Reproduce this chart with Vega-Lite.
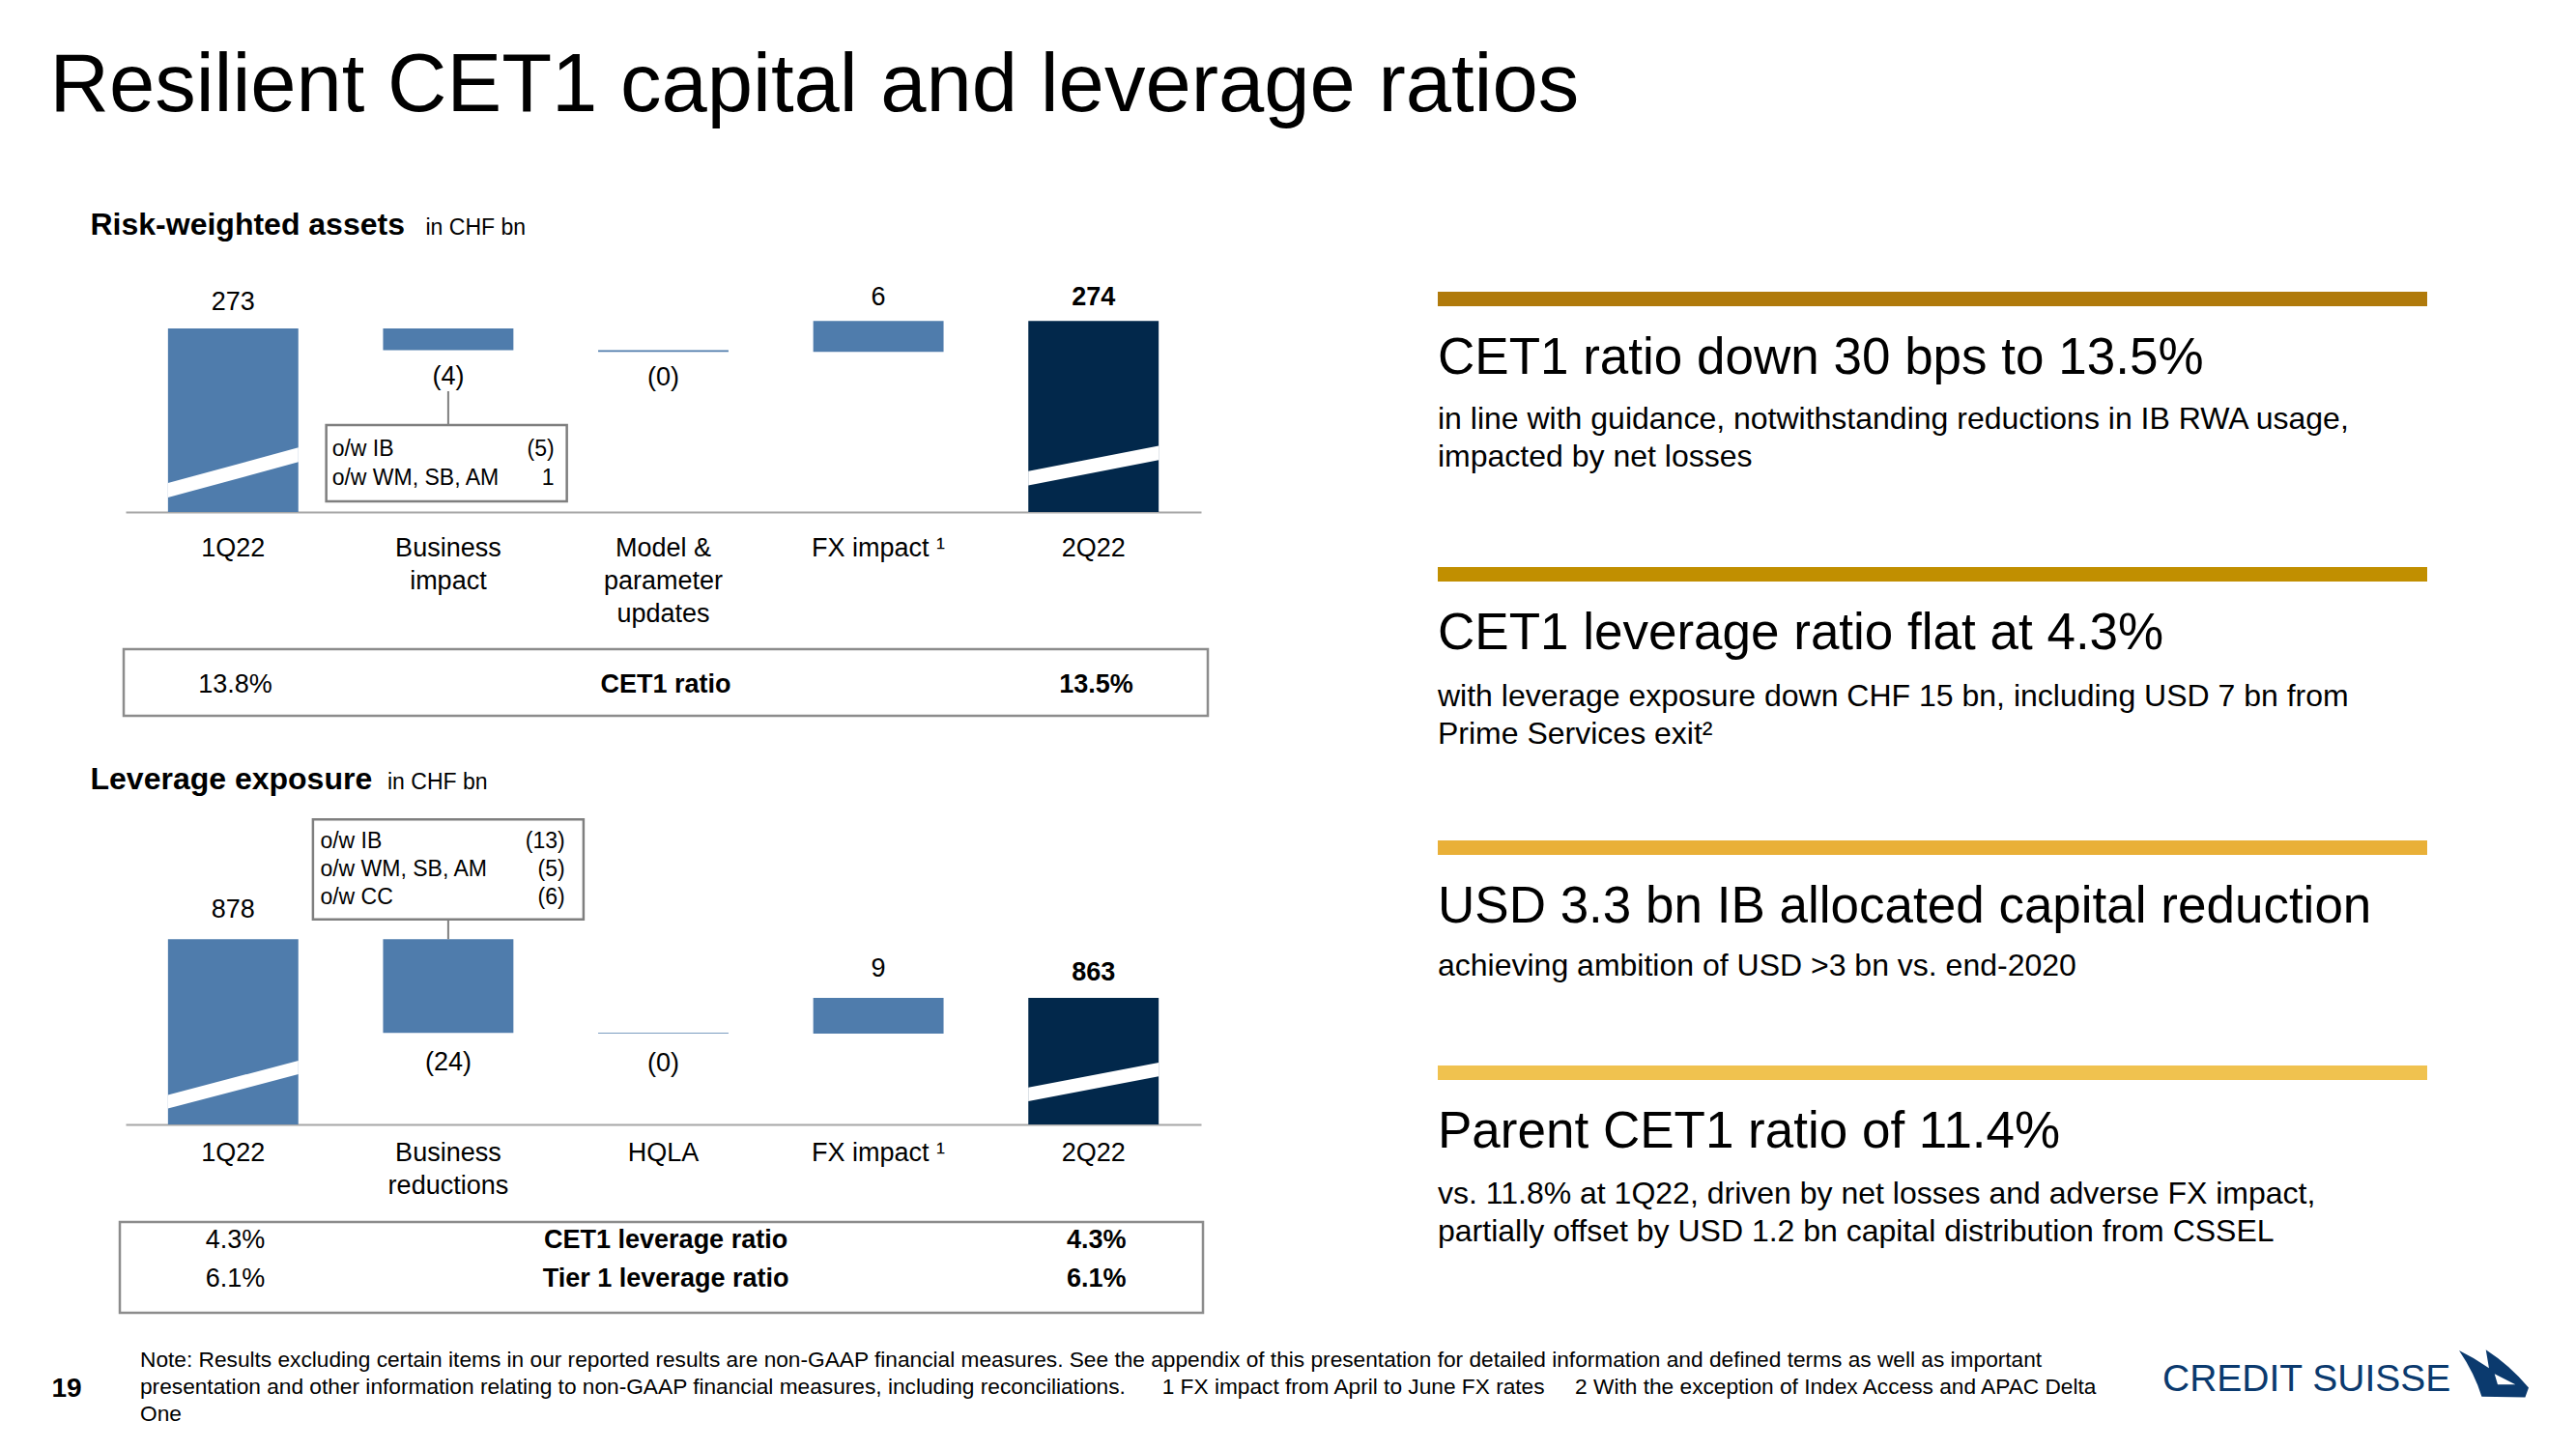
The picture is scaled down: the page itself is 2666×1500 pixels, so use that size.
{
  "$schema": "https://vega.github.io/schema/vega-lite/v6.json",
  "background": "white",
  "padding": 0,
  "spacing": 0,
  "config": {"view": {"stroke": null}, "font": "Liberation Sans", "concat": {"spacing": 0}, "text": {"color": "#000000"}},
  "datasets": {
    "rwa": [
      {"cat": "1Q22", "start": 0, "end": 273, "label": "273"},
      {"cat": "Business impact", "start": 273, "end": 268.9, "label": "(4)", "notes": ["o/w IB", "o/w WM, SB, AM"], "noteValues": ["(5)", "1\u00a0"]},
      {"cat": "Model & parameter updates", "start": 268.9, "end": 268.6, "label": "(0)"},
      {"cat": "FX impact \u00b9", "start": 268.6, "end": 274.4, "label": "6"},
      {"cat": "2Q22", "start": 0, "end": 274.4, "label": "274"}
    ],
    "lev": [
      {"cat": "1Q22", "start": 0, "end": 878, "label": "878"},
      {"cat": "Business reductions", "start": 878, "end": 854, "label": "(24)", "notes": ["o/w IB", "o/w WM, SB, AM", "o/w CC"], "noteValues": ["(13)", "(5)", "(6)"]},
      {"cat": "HQLA", "start": 854, "end": 853.8, "label": "(0)"},
      {"cat": "FX impact \u00b9", "start": 853.8, "end": 863, "label": "9"},
      {"cat": "2Q22", "start": 0, "end": 863, "label": "863"}
    ],
    "rwaRatio": [{"metric": "CET1 ratio", "p1": "13.8%", "p2": "13.5%"}],
    "levRatio": [
      {"metric": "CET1 leverage ratio", "p1": "4.3%", "p2": "4.3%"},
      {"metric": "Tier 1 leverage ratio", "p1": "6.1%", "p2": "6.1%"}
    ]
  },
  "vconcat": [
    {
      "spacing": 0,
      "hconcat": [
        {"width": 51, "height": 1, "data": {"values": []}, "mark": "point"},
        {"width": 1, "height": 200, "data": {"values": [{"title": "Resilient CET1 capital and leverage ratios"}]},
         "mark": {"type": "text", "align": "left", "baseline": "alphabetic", "fontSize": 85, "dy": 15},
         "encoding": {"text": {"field": "title"}}}
      ]
    },
    {
      "spacing": 0,
      "hconcat": [
        {"width": 93, "height": 1, "data": {"values": []}, "mark": "point"},
        {
          "spacing": 0,
          "vconcat": [
            {"width": 1, "height": 86, "data": {"values": [{"section": "Risk-weighted assets", "unit": "in CHF bn"}]},
             "layer": [
               {"mark": {"type": "text", "align": "left", "baseline": "alphabetic", "fontSize": 32, "fontWeight": "bold"}, "encoding": {"text": {"field": "section"}}},
               {"mark": {"type": "text", "align": "left", "baseline": "alphabetic", "fontSize": 23, "dx": 347}, "encoding": {"text": {"field": "unit"}}}
             ]},
            {
              "spacing": 0,
              "hconcat": [
                {"width": 37, "height": 1, "data": {"values": []}, "mark": "point"},
                {
                  "width": 1113, "height": 244,
                  "data": {"name": "rwa"},
                  "encoding": {"x": {"field": "cat", "type": "nominal", "sort": null,
                    "scale": {"type": "band", "paddingInner": 0.394, "paddingOuter": 0.197},
                    "axis": {"title": null, "ticks": false, "domainColor": "#A6A6A6", "domainWidth": 2, "labelFontSize": 27, "labelColor": "#000000", "labelPadding": 24.7, "labelLineHeight": 34, "labelAngle": 0, "labelBaseline": "top", "labelOverlap": false, "labelLimit": 0, "labelFlush": false, "grid": false,
                      "labelExpr": "datum.label === 'Business impact' ? ['Business', 'impact'] : datum.label === 'Model & parameter updates' ? ['Model &', 'parameter', 'updates'] : datum.label"}}},
                  "layer": [
                    {"mark": {"type": "bar"},
                     "encoding": {
                       "y": {"field": "end", "type": "quantitative", "scale": {"domain": [238.45, 282.81], "zero": false, "nice": false, "clamp": true}, "axis": null},
                       "y2": {"field": "start"},
                       "color": {"condition": {"test": "datum.cat === '2Q22'", "value": "#02284B"}, "value": "#4F7CAC"}}},
                    {"transform": [{"filter": "datum.cat === '1Q22'"}],
                     "mark": {"type": "point", "shape": "M -1 0.161 L 1 -0.383 L 1 -0.161 L -1 0.383 Z", "size": 18225, "filled": true, "color": "#FFFFFF", "opacity": 1, "strokeWidth": 0, "yOffset": -40.85},
                     "encoding": {"y": {"field": "start", "type": "quantitative"}}},
                    {"transform": [{"filter": "datum.cat === '2Q22'"}],
                     "mark": {"type": "point", "shape": "M -1 0.084 L 1 -0.302 L 1 -0.084 L -1 0.302 Z", "size": 18225, "filled": true, "color": "#FFFFFF", "opacity": 1, "strokeWidth": 0, "yOffset": -48},
                     "encoding": {"y": {"field": "start", "type": "quantitative"}}},
                    {"transform": [{"filter": "datum.cat === '1Q22'"}],
                     "mark": {"type": "text", "fontSize": 27, "baseline": "alphabetic", "dy": -18.5},
                     "encoding": {"y": {"field": "end", "type": "quantitative"}, "text": {"field": "label"}}},
                    {"transform": [{"filter": "datum.end >= datum.start && datum.cat !== '2Q22' && datum.cat !== '1Q22'"}],
                     "mark": {"type": "text", "fontSize": 27, "baseline": "alphabetic", "dy": -16},
                     "encoding": {"y": {"field": "end", "type": "quantitative"}, "text": {"field": "label"}}},
                    {"transform": [{"filter": "datum.cat === '2Q22'"}],
                     "mark": {"type": "text", "fontSize": 27, "fontWeight": "bold", "baseline": "alphabetic", "dy": -16},
                     "encoding": {"y": {"field": "end", "type": "quantitative"}, "text": {"field": "label"}}},
                    {"transform": [{"filter": "datum.end < datum.start"}],
                     "mark": {"type": "text", "fontSize": 27, "baseline": "alphabetic", "dy": 35},
                     "encoding": {"y": {"field": "end", "type": "quantitative"}, "text": {"field": "label"}}},
                    {"transform": [{"filter": "isValid(datum.notes)"}],
                     "mark": {"type": "rule", "color": "#7F7F7F", "strokeWidth": 2, "yOffset": 42.5, "y2Offset": 77.5},
                     "encoding": {"y": {"field": "end", "type": "quantitative"}, "y2": {"field": "end"}}},
                    {"transform": [{"filter": "isValid(datum.notes)"}],
                     "mark": {"type": "point", "shape": "M -1 -0.317 L 1 -0.317 L 1 0.317 L -1 0.317 Z", "size": 62001, "filled": false, "stroke": "#7F7F7F", "strokeWidth": 2.5, "opacity": 1, "xOffset": -1.75, "yOffset": 117},
                     "encoding": {"y": {"field": "end", "type": "quantitative"}}},
                    {"transform": [{"filter": "isValid(datum.notes)"}],
                     "mark": {"type": "text", "fontSize": 23, "align": "left", "baseline": "alphabetic", "lineHeight": 30, "dx": -120.25, "dy": 109.2},
                     "encoding": {"y": {"field": "end", "type": "quantitative"}, "text": {"field": "notes"}}},
                    {"transform": [{"filter": "isValid(datum.notes)"}],
                     "mark": {"type": "text", "fontSize": 23, "align": "right", "baseline": "alphabetic", "lineHeight": 30, "dx": 109.75, "dy": 109.2},
                     "encoding": {"y": {"field": "end", "type": "quantitative"}, "text": {"field": "noteValues"}}}
                  ]
                }
              ]
            },
            {"width": 1, "height": 21, "data": {"values": []}, "mark": "point"},
            {
              "spacing": 0,
              "hconcat": [
                {"width": 33, "height": 1, "data": {"values": []}, "mark": "point"},
                {"width": 1122, "height": 69, "view": {"stroke": "#8C8C8C", "strokeWidth": 2.5},
                 "data": {"name": "rwaRatio"},
                 "layer": [
                   {"mark": {"type": "text", "fontSize": 27, "baseline": "alphabetic", "dy": 10.5},
                    "encoding": {"x": {"datum": "1Q22", "type": "nominal", "scale": {"type": "point", "domain": ["1Q22", "ratio", "2Q22"], "padding": 0.259, "align": 0.5}, "axis": null}, "text": {"field": "p1"}}},
                   {"mark": {"type": "text", "fontSize": 27, "fontWeight": "bold", "baseline": "alphabetic", "dy": 10.5},
                    "encoding": {"x": {"datum": "ratio", "type": "nominal"}, "text": {"field": "metric"}}},
                   {"mark": {"type": "text", "fontSize": 27, "fontWeight": "bold", "baseline": "alphabetic", "dy": 10.5},
                    "encoding": {"x": {"datum": "2Q22", "type": "nominal"}, "text": {"field": "p2"}}}
                 ]}
              ]
            },
            {"width": 1, "height": 48, "data": {"values": []}, "mark": "point"},
            {"width": 1, "height": 52, "data": {"values": [{"section": "Leverage exposure", "unit": "in CHF bn"}]},
             "layer": [
               {"mark": {"type": "text", "align": "left", "baseline": "alphabetic", "fontSize": 32, "fontWeight": "bold"}, "encoding": {"text": {"field": "section"}}},
               {"mark": {"type": "text", "align": "left", "baseline": "alphabetic", "fontSize": 23, "dx": 307.5}, "encoding": {"text": {"field": "unit"}}}
             ]},
            {
              "spacing": 0,
              "hconcat": [
                {"width": 37, "height": 1, "data": {"values": []}, "mark": "point"},
                {
                  "width": 1113, "height": 318,
                  "data": {"name": "lev"},
                  "encoding": {"x": {"field": "cat", "type": "nominal", "sort": null,
                    "scale": {"type": "band", "paddingInner": 0.394, "paddingOuter": 0.197},
                    "axis": {"title": null, "ticks": false, "domainColor": "#A6A6A6", "domainWidth": 2, "labelFontSize": 27, "labelColor": "#000000", "labelPadding": 16, "labelLineHeight": 34, "labelAngle": 0, "labelBaseline": "top", "labelOverlap": false, "labelLimit": 0, "labelFlush": false, "grid": false,
                      "labelExpr": "datum.label === 'Business reductions' ? ['Business', 'reductions'] : datum.label"}}},
                  "layer": [
                    {"mark": {"type": "bar"},
                     "encoding": {
                       "y": {"field": "end", "type": "quantitative", "scale": {"domain": [830.55, 909.26], "zero": false, "nice": false, "clamp": true}, "axis": null},
                       "y2": {"field": "start"},
                       "color": {"condition": {"test": "datum.cat === '2Q22'", "value": "#02284B"}, "value": "#4F7CAC"}}},
                    {"transform": [{"filter": "datum.cat === '1Q22'"}],
                     "mark": {"type": "point", "shape": "M -1 0.159 L 1 -0.367 L 1 -0.159 L -1 0.367 Z", "size": 18225, "filled": true, "color": "#FFFFFF", "opacity": 1, "strokeWidth": 0, "yOffset": -41.25},
                     "encoding": {"y": {"field": "start", "type": "quantitative"}}},
                    {"transform": [{"filter": "datum.cat === '2Q22'"}],
                     "mark": {"type": "point", "shape": "M -1 0.085 L 1 -0.295 L 1 -0.085 L -1 0.295 Z", "size": 18225, "filled": true, "color": "#FFFFFF", "opacity": 1, "strokeWidth": 0, "yOffset": -44},
                     "encoding": {"y": {"field": "start", "type": "quantitative"}}},
                    {"transform": [{"filter": "datum.end >= datum.start && datum.cat !== '2Q22'"}],
                     "mark": {"type": "text", "fontSize": 27, "baseline": "alphabetic", "dy": -22},
                     "encoding": {"y": {"field": "end", "type": "quantitative"}, "text": {"field": "label"}}},
                    {"transform": [{"filter": "datum.cat === '2Q22'"}],
                     "mark": {"type": "text", "fontSize": 27, "fontWeight": "bold", "baseline": "alphabetic", "dy": -18},
                     "encoding": {"y": {"field": "end", "type": "quantitative"}, "text": {"field": "label"}}},
                    {"transform": [{"filter": "datum.end < datum.start"}],
                     "mark": {"type": "text", "fontSize": 27, "baseline": "alphabetic", "dy": 39},
                     "encoding": {"y": {"field": "end", "type": "quantitative"}, "text": {"field": "label"}}},
                    {"transform": [{"filter": "isValid(datum.notes)"}],
                     "mark": {"type": "rule", "color": "#7F7F7F", "strokeWidth": 2, "yOffset": -20.6, "y2Offset": 0},
                     "encoding": {"y": {"field": "start", "type": "quantitative"}, "y2": {"field": "start"}}},
                    {"transform": [{"filter": "isValid(datum.notes)"}],
                     "mark": {"type": "point", "shape": "M -1 -0.369 L 1 -0.369 L 1 0.369 L -1 0.369 Z", "size": 78400, "filled": false, "stroke": "#7F7F7F", "strokeWidth": 2.5, "opacity": 1, "yOffset": -72.3},
                     "encoding": {"y": {"field": "start", "type": "quantitative"}}},
                    {"transform": [{"filter": "isValid(datum.notes)"}],
                     "mark": {"type": "text", "fontSize": 23, "align": "left", "baseline": "alphabetic", "lineHeight": 29, "dx": -132.5, "dy": -94},
                     "encoding": {"y": {"field": "start", "type": "quantitative"}, "text": {"field": "notes"}}},
                    {"transform": [{"filter": "isValid(datum.notes)"}],
                     "mark": {"type": "text", "fontSize": 23, "align": "right", "baseline": "alphabetic", "lineHeight": 29, "dx": 120.75, "dy": -94},
                     "encoding": {"y": {"field": "start", "type": "quantitative"}, "text": {"field": "noteValues"}}}
                  ]
                }
              ]
            },
            {"width": 1, "height": 23, "data": {"values": []}, "mark": "point"},
            {
              "spacing": 0,
              "hconcat": [
                {"width": 29, "height": 1, "data": {"values": []}, "mark": "point"},
                {"width": 1121, "height": 94, "view": {"stroke": "#8C8C8C", "strokeWidth": 2.5},
                 "data": {"name": "levRatio"},
                 "encoding": {"y": {"field": "metric", "type": "nominal", "sort": null, "scale": {"type": "band", "paddingInner": 0, "paddingOuter": 0.175}, "axis": null}},
                 "layer": [
                   {"mark": {"type": "text", "fontSize": 27, "baseline": "alphabetic"},
                    "encoding": {"x": {"datum": "1Q22", "type": "nominal", "scale": {"type": "point", "domain": ["1Q22", "ratio", "2Q22"], "padding": 0.258, "align": 0.52}, "axis": null}, "text": {"field": "p1"}}},
                   {"mark": {"type": "text", "fontSize": 27, "fontWeight": "bold", "baseline": "alphabetic"},
                    "encoding": {"x": {"datum": "ratio", "type": "nominal"}, "text": {"field": "metric"}}},
                   {"mark": {"type": "text", "fontSize": 27, "fontWeight": "bold", "baseline": "alphabetic"},
                    "encoding": {"x": {"datum": "2Q22", "type": "nominal"}, "text": {"field": "p2"}}}
                 ]}
              ]
            },
            {"width": 1, "height": 27, "data": {"values": []}, "mark": "point"}
          ]
        },
        {"width": 236, "height": 1, "data": {"values": []}, "mark": "point"},
        {
          "spacing": 0,
          "vconcat": [
            {"width": 1, "height": 102, "data": {"values": []}, "mark": "point"},
            {"width": 1024, "height": 15, "view": {"fill": "#B07A0B", "stroke": null},
             "data": {"values": [{"headline": "CET1 ratio down 30 bps to 13.5%", "detail": ["in line with guidance, notwithstanding reductions in IB RWA usage,", "impacted by net losses"]}]},
             "encoding": {"x": {"field": "headline", "type": "nominal", "scale": {"type": "band", "paddingInner": 0, "paddingOuter": 0}, "bandPosition": 0, "axis": null}},
             "layer": [
               {"mark": {"type": "text", "align": "left", "baseline": "alphabetic", "fontSize": 53, "dy": 77.5}, "encoding": {"text": {"field": "headline"}}},
               {"mark": {"type": "text", "align": "left", "baseline": "alphabetic", "fontSize": 32, "lineHeight": 39, "dy": 134.5}, "encoding": {"text": {"field": "detail"}}}
             ]},
            {"width": 1, "height": 98, "data": {"values": []}, "mark": "point"},
            {"width": 1024, "height": 15, "view": {"fill": "#C18F00", "stroke": null},
             "data": {"values": [{"headline": "CET1 leverage ratio flat at 4.3%", "detail": ["with leverage exposure down CHF 15 bn, including USD 7 bn from", "Prime Services exit\u00b2"]}]},
             "encoding": {"x": {"field": "headline", "type": "nominal", "scale": {"type": "band", "paddingInner": 0, "paddingOuter": 0}, "bandPosition": 0, "axis": null}},
             "layer": [
               {"mark": {"type": "text", "align": "left", "baseline": "alphabetic", "fontSize": 53, "dy": 77.5}, "encoding": {"text": {"field": "headline"}}},
               {"mark": {"type": "text", "align": "left", "baseline": "alphabetic", "fontSize": 32, "lineHeight": 39, "dy": 136.5}, "encoding": {"text": {"field": "detail"}}}
             ]},
            {"width": 1, "height": 94, "data": {"values": []}, "mark": "point"},
            {"width": 1024, "height": 15, "view": {"fill": "#E9B038", "stroke": null},
             "data": {"values": [{"headline": "USD 3.3 bn IB allocated capital reduction", "detail": ["achieving ambition of USD >3 bn vs. end-2020"]}]},
             "encoding": {"x": {"field": "headline", "type": "nominal", "scale": {"type": "band", "paddingInner": 0, "paddingOuter": 0}, "bandPosition": 0, "axis": null}},
             "layer": [
               {"mark": {"type": "text", "align": "left", "baseline": "alphabetic", "fontSize": 53, "dy": 77.5}, "encoding": {"text": {"field": "headline"}}},
               {"mark": {"type": "text", "align": "left", "baseline": "alphabetic", "fontSize": 32, "lineHeight": 39, "dy": 132.5}, "encoding": {"text": {"field": "detail"}}}
             ]},
            {"width": 1, "height": 87, "data": {"values": []}, "mark": "point"},
            {"width": 1024, "height": 15, "view": {"fill": "#F0C24F", "stroke": null},
             "data": {"values": [{"headline": "Parent CET1 ratio of 11.4%", "detail": ["vs. 11.8% at 1Q22, driven by net losses and adverse FX impact,", "partially offset by USD 1.2 bn capital distribution from CSSEL"]}]},
             "encoding": {"x": {"field": "headline", "type": "nominal", "scale": {"type": "band", "paddingInner": 0, "paddingOuter": 0}, "bandPosition": 0, "axis": null}},
             "layer": [
               {"mark": {"type": "text", "align": "left", "baseline": "alphabetic", "fontSize": 53, "dy": 77.5}, "encoding": {"text": {"field": "headline"}}},
               {"mark": {"type": "text", "align": "left", "baseline": "alphabetic", "fontSize": 32, "lineHeight": 39, "dy": 135}, "encoding": {"text": {"field": "detail"}}}
             ]}
          ]
        }
      ]
    },
    {
      "spacing": 0,
      "hconcat": [
        {"width": 53, "height": 1, "data": {"values": []}, "mark": "point"},
        {"width": 32, "height": 100, "data": {"values": [{"page": "19"}]},
         "mark": {"type": "text", "fontSize": 28, "fontWeight": "bold", "baseline": "alphabetic", "dy": 8.3},
         "encoding": {"text": {"field": "page"}}},
        {"width": 60, "height": 1, "data": {"values": []}, "mark": "point"},
        {"width": 2093, "height": 100,
         "data": {"values": [{"brand": "CREDIT SUISSE", "note": [
          "Note: Results excluding certain items in our reported results are non-GAAP financial measures. See the appendix of this presentation for detailed information and defined terms as well as important",
          "presentation and other information relating to non-GAAP financial measures, including reconciliations.\u00a0\u00a0\u00a0\u00a0\u00a0 1 FX impact from April to June FX rates\u00a0\u00a0\u00a0\u00a0 2 With the exception of Index Access and APAC Delta",
          "One"]}]},
         "encoding": {"x": {"field": "brand", "type": "nominal", "scale": {"type": "band", "paddingInner": 0, "paddingOuter": 0}, "axis": null}},
         "layer": [
           {"mark": {"type": "text", "align": "left", "baseline": "alphabetic", "fontSize": 22.7, "lineHeight": 28.3, "dy": -23.3},
            "encoding": {"x": {"field": "brand", "type": "nominal", "bandPosition": 0}, "text": {"field": "note"}}},
           {"mark": {"type": "text", "align": "left", "baseline": "alphabetic", "fontSize": 39, "color": "#0B3A6E", "dy": 1.7},
            "encoding": {"x": {"field": "brand", "type": "nominal", "bandPosition": 1}, "text": {"field": "brand"}}},
           {"mark": {"type": "point", "shape": "M -1 -0.667 Q -0.55 -0.45 -0.14 -0.16 L -0.23 -0.69 Q 0.45 -0.25 1 0.4 L 0.9 0.68 L -0.35 0.66 Q -0.55 0 -1 -0.667 Z M 0.02 0.01 L 0.11 0.31 L 0.62 0.31 Z", "size": 5184, "filled": true, "color": "#0B3A6E", "opacity": 1, "strokeWidth": 0, "xOffset": 343, "yOffset": -16},
            "encoding": {"x": {"field": "brand", "type": "nominal", "bandPosition": 1}}}
         ]}
      ]
    }
  ]
}
